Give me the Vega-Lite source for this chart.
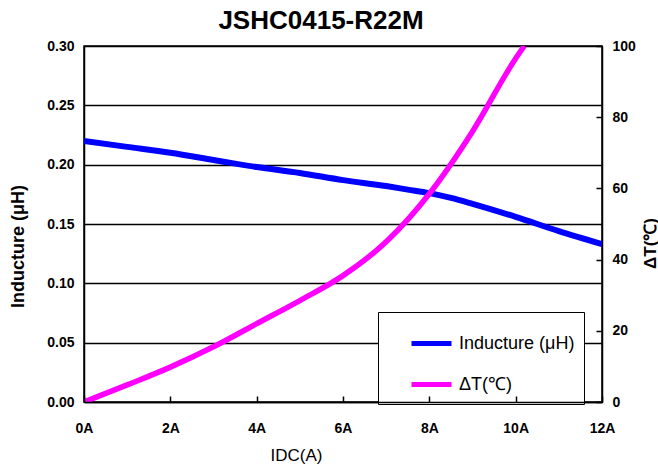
{
  "$schema": "https://vega.github.io/schema/vega-lite/v6.json",
  "width": 518,
  "height": 356,
  "autosize": {"type": "none"},
  "padding": {"left": 84, "top": 46, "right": 56, "bottom": 66},
  "background": "white",
  "title": {"text": "JSHC0415-R22M", "fontSize": 26, "font": "Liberation Sans", "fontWeight": "bold", "color": "black", "offset": 5, "dx": -22, "anchor": "middle"},
  "config": {"view": {"stroke": "black", "strokeWidth": 1.5}, "font": "Liberation Sans"},
  "datasets": {
    "ind": [
      {"I": 0, "L": 0.220}, {"I": 1, "L": 0.215}, {"I": 2, "L": 0.210}, {"I": 3, "L": 0.204},
      {"I": 4, "L": 0.198}, {"I": 5, "L": 0.193}, {"I": 6, "L": 0.187}, {"I": 7, "L": 0.182},
      {"I": 7.5, "L": 0.179}, {"I": 8, "L": 0.176}, {"I": 8.5, "L": 0.172}, {"I": 9, "L": 0.167},
      {"I": 10, "L": 0.156}, {"I": 11, "L": 0.144}, {"I": 12, "L": 0.133}
    ],
    "dt": [
      {"I": 0, "T": 0}, {"I": 1, "T": 4.8}, {"I": 2, "T": 9.8}, {"I": 3, "T": 15.5},
      {"I": 4, "T": 22}, {"I": 5, "T": 28.5}, {"I": 6, "T": 35.5}, {"I": 7, "T": 45},
      {"I": 8, "T": 58.5}, {"I": 9, "T": 76}, {"I": 10, "T": 96.5}, {"I": 10.2, "T": 100}
    ]
  },
  "layer": [
    {
      "data": {"name": "ind"},
      "mark": {"type": "line", "strokeWidth": 6, "interpolate": "monotone", "clip": true},
      "encoding": {
        "x": {"field": "I", "type": "quantitative", "scale": {"domain": [0, 12], "nice": false},
          "axis": {"values": [0, 2, 4, 6, 8, 10, 12], "labelExpr": "datum.value + 'A'", "grid": false, "zindex": 1,
            "tickSize": -6, "tickColor": "black", "tickWidth": 1.5, "domainColor": "black", "domainWidth": 1.5,
            "labelFontWeight": "bold", "labelFontSize": 14, "labelColor": "black", "labelPadding": 25, "labelFlush": false,
            "title": "IDC(A)", "titleFontSize": 17, "titleFontWeight": "normal", "titleColor": "black",
            "titleX": 212, "titleY": 53, "titleBaseline": "middle", "titleAlign": "center"}},
        "y": {"field": "L", "type": "quantitative", "scale": {"domain": [0, 0.3], "nice": false},
          "axis": {"values": [0, 0.05, 0.1, 0.15, 0.2, 0.25, 0.3], "format": ".2f", "grid": true,
            "gridColor": "black", "gridOpacity": 1, "gridWidth": 1.3, "ticks": false,
            "domainColor": "black", "domainWidth": 1.5, "labelPadding": 10, "labelFlush": false,
            "labelFontWeight": "bold", "labelFontSize": 14, "labelColor": "black",
            "title": "Inducture (μH)", "titleFontSize": 18, "titleFontWeight": "bold", "titleColor": "black",
            "titleX": -66, "titleY": 200, "titleBaseline": "middle", "titleAlign": "center", "titleAngle": 270}},
        "color": {"datum": "Inducture (μH)", "type": "nominal",
          "scale": {"domain": ["Inducture (μH)", "ΔT(℃)"], "range": ["#0000ff", "#ff00ff"]},
          "legend": {"orient": "none", "legendX": 294, "legendY": 266, "title": null,
            "fillColor": "white", "strokeColor": "black", "padding": 9,
            "symbolType": "stroke", "symbolSize": 1600, "symbolStrokeWidth": 5, "symbolOffset": 22,
            "labelFontSize": 18, "labelFont": "Liberation Sans", "labelColor": "black", "labelLimit": 300,
            "rowPadding": 8, "labelOffset": 5}}
      }
    },
    {
      "data": {"name": "dt"},
      "mark": {"type": "line", "strokeWidth": 5.5, "interpolate": "monotone", "clip": true},
      "encoding": {
        "x": {"field": "I", "type": "quantitative"},
        "y": {"field": "T", "type": "quantitative", "scale": {"domain": [0, 100], "nice": false},
          "axis": {"orient": "right", "values": [0, 20, 40, 60, 80, 100], "grid": false, "zindex": 1,
            "tickSize": -6, "tickColor": "black", "tickWidth": 1.5, "domainColor": "black", "domainWidth": 1.5,
            "labelPadding": 16, "labelFlush": false, "labelFontWeight": "bold", "labelFontSize": 14, "labelColor": "black",
            "title": "ΔT(℃)", "titleFontSize": 17, "titleFontWeight": "bold", "titleColor": "black",
            "titleAngle": 270, "titleX": 48, "titleY": 197, "titleBaseline": "middle", "titleAlign": "center"}},
        "color": {"datum": "ΔT(℃)", "type": "nominal"}
      }
    }
  ],
  "resolve": {"scale": {"y": "independent"}}
}
